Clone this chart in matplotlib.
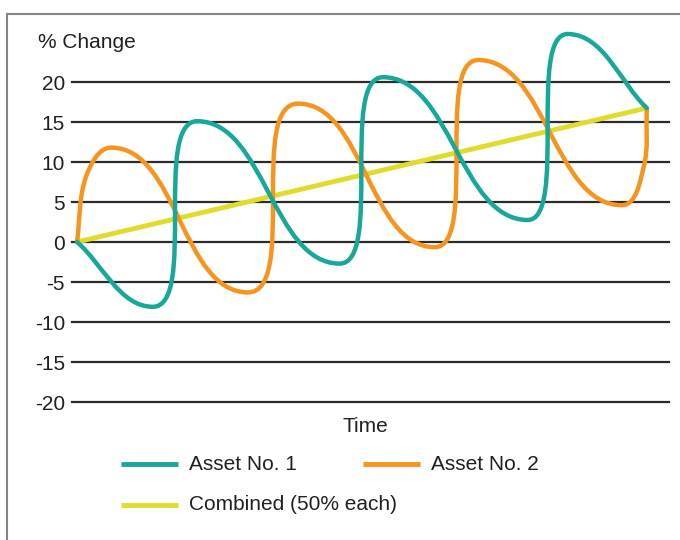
import numpy as np
import matplotlib
matplotlib.use('Agg')
import matplotlib.pyplot as plt
from matplotlib.path import Path
from matplotlib.patches import PathPatch
from matplotlib.lines import Line2D

# anchor points of each series (time, % change)
time_a1 = [0, 1.33, 2.11, 4.61, 5.37, 7.91, 8.61, 10]
asset1 = [0, -8.1, 15.1, -2.7, 20.6, 2.75, 26.0, 16.75]

time_a2 = [0, 0.16, 0.6, 3.0, 3.88, 6.28, 7.04, 9.56, 9.95, 10]
asset2 = [0, 8.2, 11.8, -6.3, 17.3, -0.65, 22.75, 4.6, 9.5, 16.75]

time_comb = [0, 10]
combined = [0, 16.75]

y_ticks = [-20, -15, -10, -5, 0, 5, 10, 15, 20]
labels = ['Asset No. 1', 'Asset No. 2', 'Combined (50% each)']

TEAL = '#17a89a'
ORANGE = '#f7941e'
YELLOW = '#e0dc2c'
INK = '#231f20'

plt.rcParams['font.family'] = ['Liberation Sans', 'DejaVu Sans']
plt.rcParams['font.size'] = 15

W, H = 680, 540
fig = plt.figure(figsize=(W / 100, H / 100), dpi=100)


def fx(px):
    return px / W


def fy(py):
    return 1 - py / H


ax = fig.add_axes([fx(72), fy(402), fx(669) - fx(72), fy(22) - fy(402)])
ax.set_xlim(-0.088, 10.39)
ax.set_ylim(-20, 27.5)
for s in ax.spines.values():
    s.set_visible(False)
ax.set_xticks([])
ax.set_yticks(y_ticks)
ax.set_yticklabels([str(v) for v in y_ticks], color=INK)
ax.tick_params(axis='y', length=0, pad=5)
for v in y_ticks:
    ax.axhline(v, color='#2b2b2b', lw=1.6, zorder=1, clip_on=False)


def smooth_curve(ax, xs, ys, **kw):
    # cubic bezier through the anchors, flat at peaks and troughs
    P = ax.transData.transform(np.column_stack([xs, ys]))
    n = len(P)
    T, flat = [], []
    for i in range(n):
        f = False
        if i == 0:
            d = P[1] - P[0]
        elif i == n - 1:
            d = P[-1] - P[-2]
        elif (P[i, 1] - P[i - 1, 1]) * (P[i + 1, 1] - P[i, 1]) <= 0:
            d = np.array([1.0, 0.0])
            f = True
        else:
            d = P[i + 1] - P[i - 1]
        T.append(d / np.linalg.norm(d))
        flat.append(f)
    verts = [P[0]]
    codes = [Path.MOVETO]
    for i in range(n - 1):
        c = P[i + 1] - P[i]
        h = np.linalg.norm(c) / 3
        h0 = min(h, abs(c[0])) if flat[i] else h
        h1 = min(h, abs(c[0])) if flat[i + 1] else h
        verts += [P[i] + h0 * T[i], P[i + 1] - h1 * T[i + 1], P[i + 1]]
        codes += [Path.CURVE4] * 3
    verts = ax.transData.inverted().transform(np.array(verts))
    patch = PathPatch(Path(verts, codes), fill=False, capstyle='round',
                      joinstyle='round', clip_on=False, **kw)
    ax.add_patch(patch)


ax.plot(time_comb, combined, color=YELLOW, lw=3.5, solid_capstyle='butt', zorder=2)
smooth_curve(ax, time_a2, asset2, edgecolor=ORANGE, lw=3.2, zorder=3)
smooth_curve(ax, time_a1, asset1, edgecolor=TEAL, lw=3.2, zorder=4)

# outer frame
fig.add_artist(Line2D([fx(7), fx(7)], [fy(14), fy(H + 5)], color='#858585', lw=1.5))
fig.add_artist(Line2D([fx(7), fx(W + 5)], [fy(14), fy(14)], color='#858585', lw=1.5))

fig.text(fx(38), fy(43), '% Change', ha='left', va='center', color=INK)
fig.text(fx(365), fy(427), 'Time', ha='center', va='center', color=INK)

# legend
legend_items = [(TEAL, 121, 464), (ORANGE, 363, 464), (YELLOW, 121, 505)]
for (col, x0, y0), lab in zip(legend_items, labels):
    fig.add_artist(Line2D([fx(x0), fx(x0 + 57)], [fy(y0), fy(y0)], color=col,
                          lw=3.5, solid_capstyle='butt'))
    fig.text(fx(x0 + 68), fy(y0), lab, ha='left', va='center', color=INK)

fig.savefig('out.png', dpi=100)
